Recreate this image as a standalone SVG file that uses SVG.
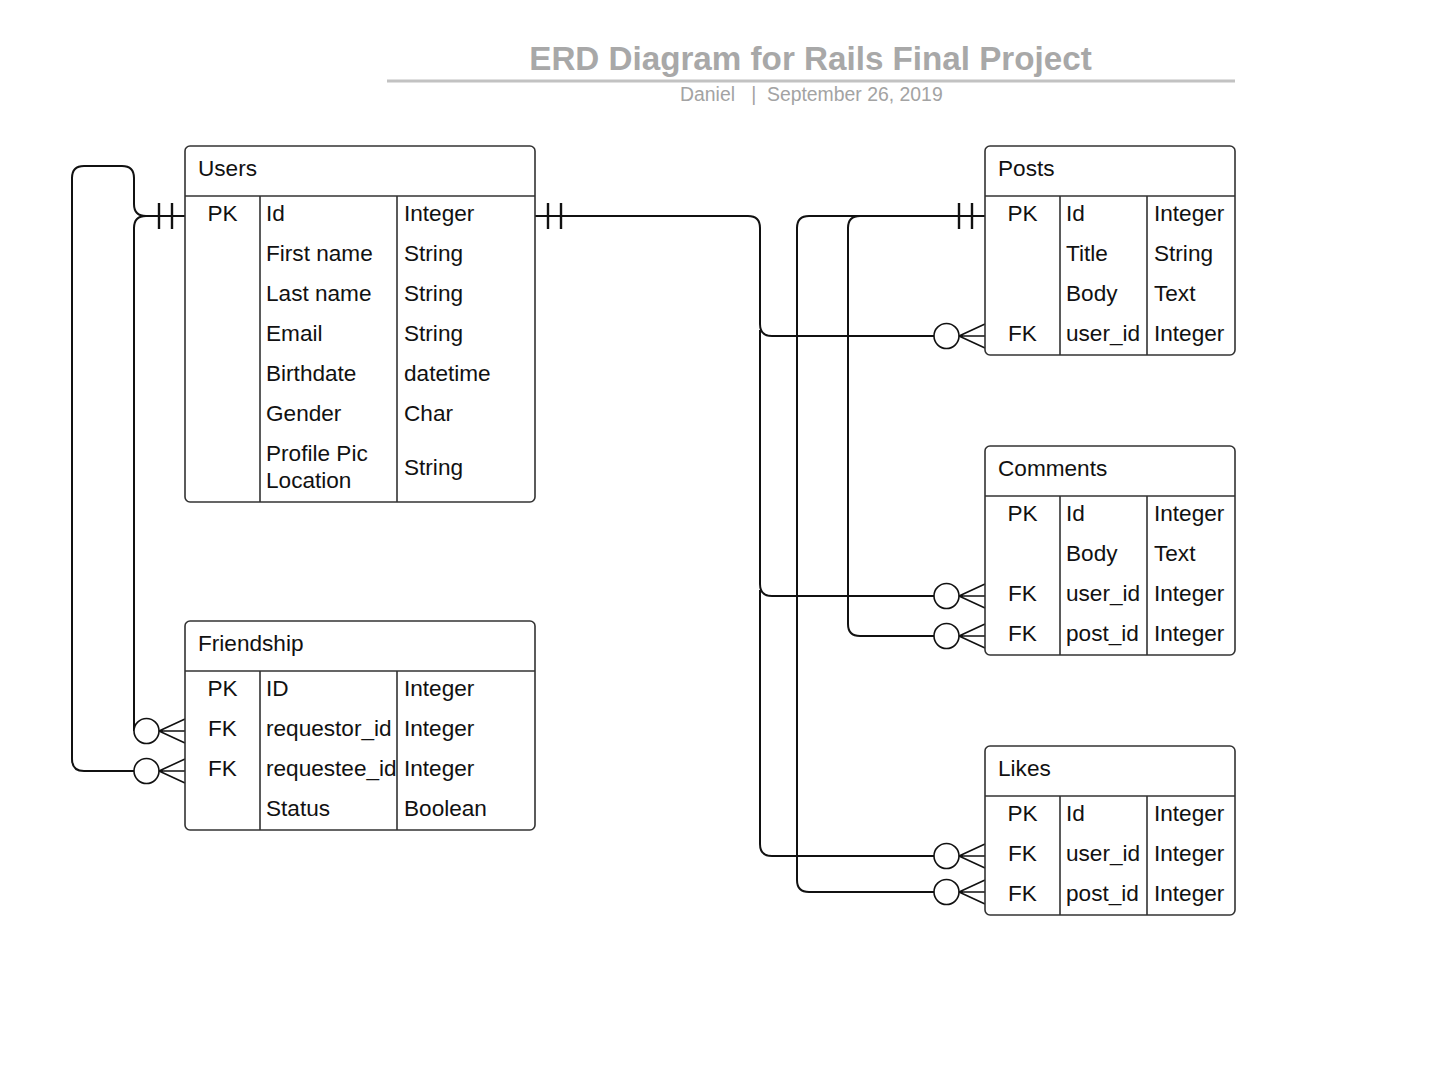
<svg xmlns="http://www.w3.org/2000/svg" width="1434" height="1077" viewBox="0 0 1434 1077">
<style>
.tbl{fill:#fff;stroke:#333;stroke-width:1.6}
.ln{stroke:#333;stroke-width:1.6;fill:none}
.t{font-family:"Liberation Sans",Arial,sans-serif;font-size:22.6px;fill:#111}
.c{text-anchor:middle}
.conn{stroke:#111;stroke-width:2;fill:none}
.circ{fill:#fff;stroke:#111;stroke-width:1.6}
.foot{stroke:#111;stroke-width:1.6;fill:none}
.bar{stroke:#111;stroke-width:2.4}
</style>
<rect width="1434" height="1077" fill="#fff"/>
<g id="title">
<text x="810.5" y="70" text-anchor="middle" font-family="Liberation Sans,Arial,sans-serif" font-weight="bold" font-size="33.2" fill="#a8a8a8">ERD Diagram for Rails Final Project</text>
<line x1="387" y1="81" x2="1235" y2="81" stroke="#c2c2c2" stroke-width="3"/>
<text x="680" y="101" font-family="Liberation Sans,Arial,sans-serif" font-size="19.4" fill="#a3a3a3" xml:space="preserve">Daniel   |  September 26, 2019</text>
</g>
<g id="connectors">
<path class="conn" d="M185,216 H146 Q134,216 134,204 V178 Q134,166 122,166 H84 Q72,166 72,178 V759 Q72,771 84,771 H134"/>
<path class="conn" d="M146,216 Q134,216 134,228 V731"/>
<line class="bar" x1="159" y1="203" x2="159" y2="229"/>
<line class="bar" x1="172" y1="203" x2="172" y2="229"/>
<path class="conn" d="M535,216 H748 Q760,216 760,228 V324 Q760,336 772,336 H934"/>
<path class="conn" d="M760,330 V584 Q760,596 772,596 H934"/>
<path class="conn" d="M760,590 V844 Q760,856 772,856 H934"/>
<line class="bar" x1="548" y1="203" x2="548" y2="229"/>
<line class="bar" x1="561" y1="203" x2="561" y2="229"/>
<path class="conn" d="M985,216 H809 Q797,216 797,228 V880 Q797,892 809,892 H934"/>
<path class="conn" d="M860,216 Q848,216 848,228 V624 Q848,636 860,636 H934"/>
<line class="bar" x1="959" y1="203" x2="959" y2="229"/>
<line class="bar" x1="972" y1="203" x2="972" y2="229"/>
<g id="ends">
<circle class="circ" cx="146.5" cy="731" r="12.5"/>
<path class="foot" d="M159,731 L185,719 M159,731 H185 M159,731 L185,743"/>
<circle class="circ" cx="146.5" cy="771" r="12.5"/>
<path class="foot" d="M159,771 L185,759 M159,771 H185 M159,771 L185,783"/>
<circle class="circ" cx="946.5" cy="336" r="12.5"/>
<path class="foot" d="M959,336 L985,324 M959,336 H985 M959,336 L985,348"/>
<circle class="circ" cx="946.5" cy="596" r="12.5"/>
<path class="foot" d="M959,596 L985,584 M959,596 H985 M959,596 L985,608"/>
<circle class="circ" cx="946.5" cy="636" r="12.5"/>
<path class="foot" d="M959,636 L985,624 M959,636 H985 M959,636 L985,648"/>
<circle class="circ" cx="946.5" cy="856" r="12.5"/>
<path class="foot" d="M959,856 L985,844 M959,856 H985 M959,856 L985,868"/>
<circle class="circ" cx="946.5" cy="892" r="12.5"/>
<path class="foot" d="M959,892 L985,880 M959,892 H985 M959,892 L985,904"/>
</g>
</g>
<g id="users">
<rect class="tbl" x="185" y="146" width="350" height="356" rx="5"/>
<path class="ln" d="M185,196 H535 M260,196 V502 M397,196 V502"/>
<text class="t" x="198" y="176">Users</text>
<text class="t c" x="222.5" y="221">PK</text>
<text class="t" x="266" y="221">Id</text><text class="t" x="404" y="221">Integer</text>
<text class="t" x="266" y="261">First name</text><text class="t" x="404" y="261">String</text>
<text class="t" x="266" y="301">Last name</text><text class="t" x="404" y="301">String</text>
<text class="t" x="266" y="341">Email</text><text class="t" x="404" y="341">String</text>
<text class="t" x="266" y="381">Birthdate</text><text class="t" x="404" y="381">datetime</text>
<text class="t" x="266" y="421">Gender</text><text class="t" x="404" y="421">Char</text>
<text class="t" x="266" y="461">Profile Pic</text><text class="t" x="266" y="488">Location</text><text class="t" x="404" y="475">String</text>
</g>
<g id="friendship">
<rect class="tbl" x="185" y="621" width="350" height="209" rx="5"/>
<path class="ln" d="M185,671 H535 M260,671 V830 M397,671 V830"/>
<text class="t" x="198" y="651">Friendship</text>
<text class="t c" x="222.5" y="696">PK</text><text class="t" x="266" y="696">ID</text><text class="t" x="404" y="696">Integer</text>
<text class="t c" x="222.5" y="736">FK</text><text class="t" x="266" y="736">requestor_id</text><text class="t" x="404" y="736">Integer</text>
<text class="t c" x="222.5" y="776">FK</text><text class="t" x="266" y="776">requestee_id</text><text class="t" x="404" y="776">Integer</text>
<text class="t" x="266" y="816">Status</text><text class="t" x="404" y="816">Boolean</text>
</g>
<g id="posts">
<rect class="tbl" x="985" y="146" width="250" height="209" rx="5"/>
<path class="ln" d="M985,196 H1235 M1060,196 V355 M1147,196 V355"/>
<text class="t" x="998" y="176">Posts</text>
<text class="t c" x="1022.5" y="221">PK</text><text class="t" x="1066" y="221">Id</text><text class="t" x="1154" y="221">Integer</text>
<text class="t" x="1066" y="261">Title</text><text class="t" x="1154" y="261">String</text>
<text class="t" x="1066" y="301">Body</text><text class="t" x="1154" y="301">Text</text>
<text class="t c" x="1022.5" y="341">FK</text><text class="t" x="1066" y="341">user_id</text><text class="t" x="1154" y="341">Integer</text>
</g>
<g id="comments">
<rect class="tbl" x="985" y="446" width="250" height="209" rx="5"/>
<path class="ln" d="M985,496 H1235 M1060,496 V655 M1147,496 V655"/>
<text class="t" x="998" y="476">Comments</text>
<text class="t c" x="1022.5" y="521">PK</text><text class="t" x="1066" y="521">Id</text><text class="t" x="1154" y="521">Integer</text>
<text class="t" x="1066" y="561">Body</text><text class="t" x="1154" y="561">Text</text>
<text class="t c" x="1022.5" y="601">FK</text><text class="t" x="1066" y="601">user_id</text><text class="t" x="1154" y="601">Integer</text>
<text class="t c" x="1022.5" y="641">FK</text><text class="t" x="1066" y="641">post_id</text><text class="t" x="1154" y="641">Integer</text>
</g>
<g id="likes">
<rect class="tbl" x="985" y="746" width="250" height="169" rx="5"/>
<path class="ln" d="M985,796 H1235 M1060,796 V915 M1147,796 V915"/>
<text class="t" x="998" y="776">Likes</text>
<text class="t c" x="1022.5" y="821">PK</text><text class="t" x="1066" y="821">Id</text><text class="t" x="1154" y="821">Integer</text>
<text class="t c" x="1022.5" y="861">FK</text><text class="t" x="1066" y="861">user_id</text><text class="t" x="1154" y="861">Integer</text>
<text class="t c" x="1022.5" y="901">FK</text><text class="t" x="1066" y="901">post_id</text><text class="t" x="1154" y="901">Integer</text>
</g>
</svg>
